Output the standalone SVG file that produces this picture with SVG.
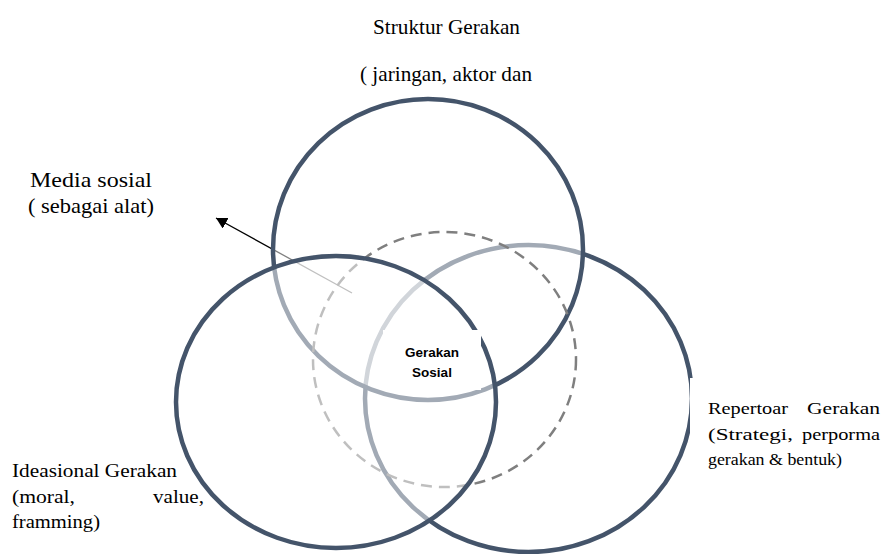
<svg xmlns="http://www.w3.org/2000/svg" width="883" height="554" viewBox="0 0 883 554">
<style>
.ring{fill:#fff;fill-opacity:0.5;stroke:#44546a;stroke-width:4.5}
.dash{fill:none;stroke:#7f7f7f;stroke-width:2.5;stroke-dasharray:11 7}
.serif{font-family:"Liberation Serif","Times New Roman",serif;fill:#000}
.lbl{font-family:"Liberation Sans",Arial,sans-serif;font-weight:bold;font-size:13.5px;text-anchor:middle;fill:#000}
.box{fill:#fff;stroke:none}
</style>
<defs>
<marker id="ah" markerUnits="userSpaceOnUse" markerWidth="12" markerHeight="12" refX="11" refY="6" orient="auto">
<path d="M0,0 L11,6 L0,12 z" fill="#000"/>
</marker>
</defs>
<rect width="883" height="554" fill="#fff"/>
<g id="repertoar">
<ellipse class="ring" cx="528.5" cy="398.5" rx="163.5" ry="153.5"/>
</g>
<g id="connectors">
<line x1="352" y1="293" x2="216" y2="218" stroke="#000" stroke-width="1.3" marker-end="url(#ah)"/>
</g>
<g id="struktur">
<ellipse class="ring" cx="428" cy="249.5" rx="155" ry="150.5"/>
<text class="serif" font-size="21.5" x="373" y="34" textLength="147" lengthAdjust="spacingAndGlyphs">Struktur Gerakan</text>
<text class="serif" font-size="21.5" x="360" y="81" textLength="172" lengthAdjust="spacingAndGlyphs">( jaringan, aktor dan</text>
</g>
<g id="media-sosial-ring">
<ellipse class="dash" cx="444.5" cy="359.5" rx="131.5" ry="127.5"/>
</g>
<g id="ideasional">
<ellipse class="ring" cx="336" cy="402" rx="160" ry="146"/>
<text class="serif" font-size="19.5" x="12" y="477" textLength="165" lengthAdjust="spacingAndGlyphs">Ideasional Gerakan</text>
<text class="serif" font-size="19.5" x="12" y="503" textLength="63" lengthAdjust="spacingAndGlyphs">(moral,</text>
<text class="serif" font-size="19.5" x="153" y="503" textLength="51" lengthAdjust="spacingAndGlyphs">value,</text>
<text class="serif" font-size="19.5" x="12" y="528" textLength="88" lengthAdjust="spacingAndGlyphs">framming)</text>
</g>
<g id="media-sosial">
<text class="serif" font-size="22" x="30" y="187" textLength="122" lengthAdjust="spacingAndGlyphs">Media sosial</text>
<text class="serif" font-size="22" x="28" y="213" textLength="126" lengthAdjust="spacingAndGlyphs">( sebagai alat)</text>
</g>
<g id="repertoar-label">
<rect class="box" x="690" y="378" width="193" height="100"/>
<text class="serif" font-size="17" x="708" y="414" textLength="80" lengthAdjust="spacingAndGlyphs">Repertoar</text>
<text class="serif" font-size="17" x="807" y="414" textLength="73" lengthAdjust="spacingAndGlyphs">Gerakan</text>
<text class="serif" font-size="17" x="708" y="440" textLength="85" lengthAdjust="spacingAndGlyphs">(Strategi,</text>
<text class="serif" font-size="17" x="802" y="440" textLength="78" lengthAdjust="spacingAndGlyphs">perporma</text>
<text class="serif" font-size="17" x="708" y="465" textLength="134" lengthAdjust="spacingAndGlyphs">gerakan &amp; bentuk)</text>
</g>
<g id="gerakan-sosial">
<rect class="box" x="383" y="330" width="98" height="60"/>
<text class="lbl" x="432" y="357">Gerakan</text>
<text class="lbl" x="432" y="377">Sosial</text>
</g>
</svg>
